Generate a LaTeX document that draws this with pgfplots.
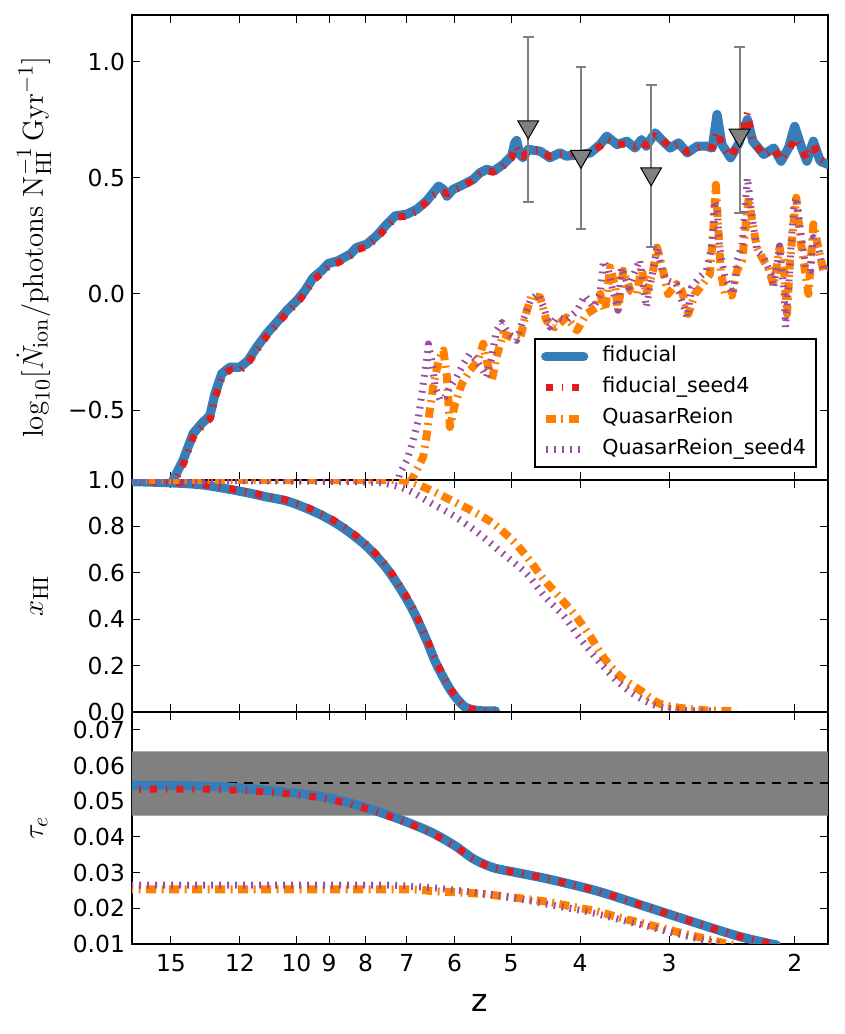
\documentclass[border=0pt]{standalone}
\usepackage[no-math]{fontspec}
\setmainfont{DejaVu Sans}
\usepackage{pgfplots}
\pgfplotsset{compat=1.18}
\definecolor{cblue}{RGB}{55,126,184}
\definecolor{cred}{RGB}{228,26,28}
\definecolor{corange}{RGB}{255,127,0}
\definecolor{cpurple}{RGB}{152,78,163}
\definecolor{cgray}{RGB}{128,128,128}
\tikzset{
  sblue/.style={cblue, line width=4.6pt, line join=round, line cap=round},
  sred/.style={cred, line width=3.5pt, dash pattern=on 3.5pt off 4.5pt on 0.8pt off 4.5pt, line join=round},
  sorange/.style={corange, line width=4pt, dash pattern=on 5pt off 2.75pt on 1pt off 2.75pt, line join=round},
  spurple/.style={cpurple, line width=3.5pt, dash pattern=on 0.9pt off 3.1pt, line join=round},
}
\pgfplotsset{
  every axis/.append style={
    width=348pt, scale only axis,
    xtick={2,3,4,5,6,7,8,9,10,12,15},
    xminorticks=false, yminorticks=false,
    scaled y ticks=false, scaled x ticks=false,
    enlargelimits=false,
    axis line style={line width=1pt},
    tick align=inside, major tick length=4pt,
    tick style={black, line width=0.5pt},
    tick label style={font=\fontsize{11.7}{13}\selectfont},
  },
  every axis y label/.style={at={(axis description cs:-0.1279,0.5)}, rotate=90, anchor=base, font=\fontsize{15.2}{18}\selectfont},
}
\begin{document}
\begin{tikzpicture}
%%%%%%%%%%%%%%%% TOP PANEL
\begin{axis}[xmode=log, x dir=reverse, xmin=1.796, xmax=17.01,
  name=top, height=232.5pt,
  ymin=-0.8, ymax=1.2,
  ytick={-0.5,0,0.5,1}, yticklabels={−0.5,0.0,0.5,1.0},
  xticklabels={},
  ylabel={$\log_{10}[\dot{N}_{\rm ion}/{\rm photons\ N_{HI}^{-1}\,Gyr^{-1}}]$},
  legend style={at={(rel axis cs:0.984,0.026)}, anchor=south east, draw=black, line width=0.8pt,
     font=\fontsize{10.3}{12}\selectfont, inner xsep=3pt, inner ysep=1.75pt,
     nodes={inner sep=2pt, text height=7.6pt, text depth=2.4pt}, row sep=1.5pt, column sep=5pt},
  legend cell align=left,
  legend image code/.code={\draw[#1] (0pt,0pt) -- (19pt,0pt);},
]
\coordinate (TL) at (rel axis cs:0,1);
\addplot[sblue] coordinates {
(15.2,-0.87) (14.89,-0.80) (14.42,-0.715) (13.96,-0.600) (13.58,-0.557) (13.22,-0.522) (13.01,-0.429)
(12.73,-0.343) (12.40,-0.315) (12.00,-0.315) (11.69,-0.286) (11.37,-0.229) (11.01,-0.171) (10.66,-0.122)
(10.32,-0.072) (9.99,-0.029) (9.73,0.014) (9.47,0.071) (9.22,0.100) (9.02,0.131) (8.74,0.143) (8.41,0.171)
(8.23,0.200) (7.97,0.214) (7.72,0.250) (7.47,0.300) (7.27,0.336) (7.00,0.343) (6.78,0.364) (6.57,0.400)
(6.43,0.435) (6.32,0.464) (6.22,0.450) (6.15,0.421) (6.03,0.450) (5.83,0.471) (5.65,0.493) (5.53,0.521)
(5.41,0.536) (5.29,0.528) (5.13,0.557) (4.99,0.593) (4.94,0.650) (4.91,0.660) (4.86,0.600) (4.81,0.586)
(4.73,0.622) (4.55,0.614) (4.41,0.586) (4.27,0.607) (4.18,0.593) (4.00,0.600) (3.87,0.607) (3.75,0.643)
(3.67,0.679) (3.55,0.643) (3.44,0.657) (3.35,0.628) (3.28,0.664) (3.23,0.636) (3.14,0.693) (3.06,0.657)
(2.99,0.628) (2.91,0.650) (2.83,0.607) (2.74,0.636) (2.66,0.636) (2.61,0.628) (2.57,0.772) (2.53,0.643)
(2.46,0.586) (2.40,0.643) (2.33,0.750) (2.29,0.657) (2.21,0.600) (2.14,0.628) (2.09,0.571) (2.04,0.628)
(2.00,0.721) (1.955,0.628) (1.923,0.571) (1.883,0.657) (1.842,0.571) (1.794,0.557)
};
\addlegendentry{fiducial}
\addplot[sred] coordinates {
(15.1,-0.84) (14.85,-0.81) (14.40,-0.73) (13.95,-0.615) (13.55,-0.567) (13.20,-0.535) (12.98,-0.44)
(12.70,-0.355) (12.38,-0.325) (12.00,-0.33) (11.67,-0.295) (11.35,-0.24) (11.00,-0.18) (10.65,-0.13)
(10.30,-0.08) (9.98,-0.04) (9.72,0.005) (9.46,0.06) (9.21,0.09) (9.01,0.12) (8.73,0.135) (8.40,0.165)
(8.22,0.19) (7.96,0.205) (7.71,0.24) (7.46,0.29) (7.26,0.33) (7.00,0.335) (6.78,0.355) (6.57,0.395)
(6.43,0.425) (6.32,0.44) (6.22,0.44) (6.15,0.43) (6.03,0.445) (5.83,0.465) (5.65,0.49) (5.53,0.515)
(5.41,0.53) (5.29,0.525) (5.13,0.55) (4.99,0.585) (4.94,0.63) (4.91,0.635) (4.86,0.60) (4.81,0.59)
(4.73,0.615) (4.55,0.62) (4.41,0.59) (4.27,0.60) (4.18,0.60) (4.00,0.605) (3.87,0.61) (3.75,0.635)
(3.67,0.665) (3.55,0.645) (3.44,0.645) (3.35,0.635) (3.28,0.655) (3.23,0.64) (3.14,0.68) (3.06,0.66)
(2.99,0.63) (2.91,0.645) (2.83,0.61) (2.74,0.63) (2.66,0.635) (2.61,0.63) (2.57,0.70) (2.53,0.645)
(2.46,0.59) (2.40,0.645) (2.33,0.78) (2.29,0.66) (2.21,0.595) (2.14,0.625) (2.09,0.575) (2.04,0.615)
(2.00,0.67) (1.955,0.625) (1.923,0.58) (1.883,0.645) (1.842,0.58) (1.794,0.56)
};
\addlegendentry{fiducial\_seed4}
\addplot[sorange] coordinates {
(6.93,-0.813) (6.78,-0.757) (6.64,-0.700) (6.57,-0.615) (6.50,-0.500) (6.43,-0.400) (6.32,-0.286)
(6.22,-0.243) (6.15,-0.357) (6.12,-0.471) (6.09,-0.572) (5.99,-0.471) (5.86,-0.386) (5.71,-0.329)
(5.56,-0.286) (5.47,-0.214) (5.41,-0.286) (5.32,-0.372) (5.24,-0.272) (5.13,-0.171) (4.99,-0.186)
(4.86,-0.200) (4.78,-0.100) (4.68,-0.007) (4.55,-0.015) (4.46,-0.114) (4.34,-0.143) (4.18,-0.100)
(4.04,-0.157) (3.92,-0.086) (3.79,-0.057) (3.75,0.000) (3.69,-0.072) (3.63,0.114) (3.57,0.028)
(3.54,-0.072) (3.48,0.100) (3.40,0.014) (3.33,0.000) (3.28,0.114) (3.23,0.000) (3.16,0.100) (3.12,0.200)
(3.06,0.100) (3.01,0.000) (2.93,0.043) (2.88,0.014) (2.82,-0.086) (2.76,0.000) (2.69,0.043) (2.63,0.086)
(2.60,0.285) (2.58,0.47) (2.56,0.285) (2.54,0.100) (2.505,0.000) (2.45,-0.007) (2.41,0.100) (2.37,0.143)
(2.35,0.257) (2.32,0.414) (2.29,0.300) (2.26,0.200) (2.21,0.143) (2.18,0.114) (2.14,0.036) (2.10,0.200)
(2.07,0.100) (2.05,-0.086) (2.03,0.143) (2.01,0.285) (1.99,0.414) (1.965,0.243) (1.944,0.143)
(1.913,0.000) (1.883,0.300) (1.853,0.200) (1.823,0.100) (1.794,0.114)
};
\addlegendentry{QuasarReion}
\addplot[spurple] coordinates {
(7.23,-0.82) (7.16,-0.772) (7.00,-0.715) (6.86,-0.629) (6.75,-0.543) (6.67,-0.429) (6.60,-0.329)
(6.53,-0.215) (6.46,-0.286) (6.39,-0.400) (6.29,-0.457) (6.19,-0.443) (6.09,-0.400) (5.96,-0.357)
(5.83,-0.300) (5.71,-0.257) (5.59,-0.286) (5.47,-0.329) (5.41,-0.357) (5.32,-0.272) (5.24,-0.157)
(5.15,-0.122) (5.04,-0.171) (4.91,-0.200) (4.81,-0.114) (4.70,-0.029) (4.58,0.000) (4.50,-0.057)
(4.41,-0.143) (4.31,-0.100) (4.18,-0.114) (4.04,-0.072) (3.94,-0.007) (3.83,-0.057) (3.75,0.000)
(3.71,0.143) (3.65,0.100) (3.59,0.000) (3.54,-0.070) (3.50,0.114) (3.42,0.028) (3.30,0.147) (3.23,-0.057)
(3.12,0.200) (3.07,0.100) (3.02,0.057) (2.93,0.043) (2.83,-0.100) (2.79,0.028) (2.72,0.071) (2.66,0.100)
(2.61,0.214) (2.59,0.40) (2.57,0.371) (2.55,0.200) (2.505,0.071) (2.44,0.000) (2.41,0.143) (2.37,0.214)
(2.33,0.50) (2.30,0.357) (2.26,0.186) (2.21,0.157) (2.16,0.086) (2.14,0.028) (2.10,0.207) (2.07,0.000)
(2.06,-0.143) (2.04,0.028) (2.01,0.357) (1.99,0.414) (1.965,0.286) (1.93,0.114) (1.90,0.100)
(1.883,0.243) (1.853,0.200) (1.823,0.100) (1.78,0.114)
};
\addlegendentry{QuasarReion\_seed4}
\addplot[forget plot, draw=none, mark=none,
  error bars/.cd, y dir=both, y explicit,
  error bar style={draw=cgray, line width=1pt, solid},
  error mark options={rotate=90, draw=cgray, mark size=2.7pt, line width=1pt, solid}]
  table[x=z, y=v, y error plus=ep, y error minus=em] {
z v ep em
4.73 0.706 0.398 0.309
3.99 0.579 0.397 0.298
3.18 0.504 0.394 0.300
2.39 0.670 0.393 0.323
};
\addplot[forget plot, only marks, mark=triangle*, mark size=6pt,
  mark options={yshift=1.5pt, rotate=180, fill=cgray, draw=black, line width=0.5pt, solid}]
  table[x=z, y=v] {
z v
4.73 0.706
3.99 0.579
3.18 0.504
2.39 0.670
};
\end{axis}
%%%%%%%%%%%%%%%% MIDDLE PANEL
\begin{axis}[xmode=log, x dir=reverse, xmin=1.796, xmax=17.01,
  name=mid, at={(top.south west)}, anchor=north west, height=116pt,
  ymin=0, ymax=1.0,
  ytick={0,0.2,0.4,0.6,0.8,1.0}, yticklabels={0.0,0.2,0.4,0.6,0.8,1.0},
  xticklabels={},
  ylabel={$x_{\rm HI}$},
]
\addplot[sblue, smooth] coordinates {
(17.5,0.994) (16.96,0.993) (15.0,0.988) (13.47,0.978) (11.93,0.950) (11.05,0.928) (10.23,0.906)
(9.33,0.856) (8.65,0.799) (8.01,0.720) (7.54,0.634) (7.20,0.547) (6.87,0.440) (6.57,0.310)
(6.37,0.210) (6.08,0.095) (5.81,0.023) (5.55,0.006) (5.26,0.005)
};
\addplot[sred, smooth] coordinates {
(17.5,0.996) (16.96,0.995) (15.0,0.99) (13.47,0.98) (11.93,0.953) (11.05,0.932) (10.23,0.91)
(9.33,0.862) (8.65,0.806) (8.01,0.728) (7.54,0.643) (7.20,0.556) (6.87,0.45) (6.57,0.32)
(6.37,0.22) (6.08,0.1) (5.81,0.027) (5.55,0.007) (5.26,0.005)
};
\addplot[sorange, smooth] coordinates {
(17.5,1.0) (12.0,1.0) (8.5,1.0) (7.09,0.998) (6.57,0.964) (6.08,0.914) (5.64,0.863) (5.30,0.813)
(4.98,0.741) (4.73,0.662) (4.51,0.576) (4.28,0.497) (4.05,0.411) (3.87,0.325) (3.70,0.231)
(3.51,0.152) (3.30,0.095) (3.10,0.037) (2.87,0.016) (2.62,0.006) (2.41,0.005)
};
\addplot[spurple, smooth] coordinates {
(17.5,0.998) (12.0,0.997) (8.5,0.993) (7.54,0.986) (6.98,0.957) (6.47,0.900) (5.99,0.842)
(5.55,0.770) (5.14,0.684) (4.76,0.598) (4.48,0.497) (4.21,0.411) (4.02,0.325) (3.78,0.224)
(3.56,0.138) (3.35,0.073) (3.10,0.023) (2.79,0.005) (2.58,0.005)
};
\end{axis}
%%%%%%%%%%%%%%%% BOTTOM PANEL
\begin{axis}[xmode=log, x dir=reverse, xmin=1.796, xmax=17.01,
  name=bot, at={(mid.south west)}, anchor=north west, height=116pt,
  ymin=0.01, ymax=0.075,
  ytick={0.01,0.02,0.03,0.04,0.05,0.06,0.07},
  yticklabels={0.01,0.02,0.03,0.04,0.05,0.06,0.07},
  xticklabels={2,3,4,5,6,7,8,9,10,12,15},
  xticklabel style={yshift=-1.5pt},
  xlabel={z},
  every axis x label/.style={at={(axis description cs:0.5,0)}, anchor=base, yshift=-33.8pt, font=\fontsize{15.6}{18}\selectfont},
  ylabel={$\tau_e$},
]
\addplot[fill=cgray, draw=none, forget plot] coordinates {(1.5,0.046) (20,0.046) (20,0.064) (1.5,0.064) (1.5,0.046)};
\addplot[black, line width=0.9pt, dash pattern=on 4.5pt off 3.5pt, forget plot] coordinates {(17.01,0.055) (1.796,0.055)};
\addplot[sblue, smooth] coordinates {
(17.5,0.0545) (16.96,0.0545) (15,0.0544) (12.87,0.0541) (11.05,0.0531) (9.48,0.0517) (8.52,0.0498)
(7.77,0.0474) (7.09,0.0446) (6.47,0.0413) (5.99,0.0375) (5.64,0.0338) (5.30,0.0314) (4.91,0.0300)
(4.41,0.0281) (3.78,0.0248) (3.25,0.0206) (2.79,0.0163) (2.39,0.0121) (2.12,0.0097)
};
\addplot[sred, smooth] coordinates {
(17.5,0.0533) (16.96,0.0533) (15,0.0534) (12.87,0.0533) (11.05,0.0526) (9.48,0.0513) (8.52,0.0495)
(7.77,0.0472) (7.09,0.0444) (6.47,0.0411) (5.99,0.0373) (5.64,0.0337) (5.30,0.0313) (4.91,0.0300)
(4.41,0.0281) (3.78,0.0248) (3.25,0.0206) (2.79,0.0163) (2.39,0.0121) (2.12,0.0097)
};
\addplot[sorange, smooth] coordinates {
(17.5,0.0253) (12,0.0253) (7.09,0.0253) (6.47,0.0248) (5.99,0.0245) (5.55,0.0241) (5.14,0.0234)
(4.76,0.0226) (4.41,0.0217) (4.09,0.0204) (3.78,0.0191) (3.51,0.0173) (3.25,0.0157) (3.01,0.0140)
(2.75,0.0121) (2.505,0.0102) (2.43,0.0097)
};
\addplot[spurple, smooth] coordinates {
(17.5,0.0265) (12,0.0265) (7.54,0.0265) (6.98,0.0262) (6.47,0.0258) (5.99,0.0251) (5.55,0.0243)
(5.14,0.0234) (4.76,0.0223) (4.41,0.0210) (4.09,0.0198) (3.78,0.0184) (3.51,0.0168) (3.25,0.0152)
(3.01,0.0135) (2.75,0.0116) (2.505,0.0097)
};
\end{axis}
\pgfresetboundingbox
\path[use as bounding box] ([xshift=-66pt,yshift=7.5pt]TL) rectangle ([xshift=356.5pt,yshift=-509.5pt]TL);
\end{tikzpicture}
\end{document}
